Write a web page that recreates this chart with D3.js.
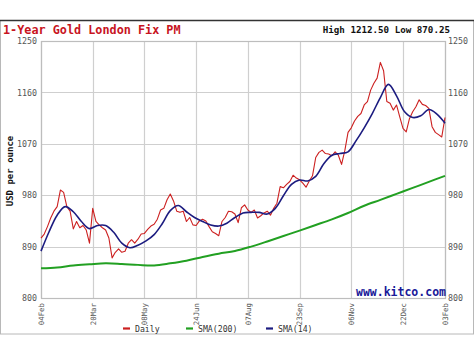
<!DOCTYPE html>
<html><head><meta charset="utf-8">
<script src="https://cdn.jsdelivr.net/npm/d3@7"></script>
<style>
html,body{margin:0;padding:0;background:#fff;}
svg{display:block;}
text{font-family:"DejaVu Sans Mono",monospace;}
</style></head>
<body><svg id="c" width="474" height="355"></svg>
<script>
// ---- data ----
const title = "1-Year Gold London Fix PM";
const highLow = "High 1212.50 Low 870.25";
const yLabel = "USD per ounce";
const yTicks = [800, 890, 980, 1070, 1160, 1250];
const xTickLabels = ["04Feb","20Mar","08May","24Jun","07Aug","23Sep","06Nov","22Dec","03Feb"];
const xTickDays = [0, 32, 64, 96, 128, 160, 192, 224, 250];
const lastDay = 250;
// Daily PM fix, sampled every 2 trading days
const dailyStep = 2;
const daily = [905,912,925,940,952,960,989,985,960,952,921,934,923,927,919,896,957,934,928,923,
  919,905,870.25,880,886,880,882,896,902,896,903,912,913,920,926,929,938,954,957,972,
  982,970,952,950,952,934,941,928,927,935,938,935,925,916,913,909,934,941,952,951,
  947,932,958,963,954,950,954,940,944,949,952,945,957,966,995,993,999,1004,1015,1010,
  1007,1001,994,1005,1014,1046,1055,1059,1053,1052,1049,1056,1050,1034,1058,1090,1098,1110,1118,1123,
  1138,1144,1164,1176,1185,1212.5,1198,1144,1141,1129,1138,1117,1097,1091,1114,1126,1135,1147,1139,1137,
  1132,1100,1090,1086,1082,1116];
// SMA(14), every 5 trading days
const sma14Step = 5;
const sma14 = [882,916,945,960,951,934,921.5,927,927,915,896,888,892.5,900,911,930,953,962,951,941,
  934,928,926,931,941,949,950,950,947,957,979,999,1006.6,1005,1013,1035,1050,1053,1056,1075.5,
  1098,1123,1151,1174,1154,1126,1116,1119,1130,1122,1106];
// SMA(200), every 10 trading days
const sma200Step = 10;
const sma200 = [852,853.5,857,859,860.7,859.6,858,857,860.7,865.4,871.8,877.6,882.3,890,899,908.5,918,927.8,937.7,948.8,
  961.6,971.8,982.3,992.8,1003.3,1013.9];
const legendItems = [
  {name:"Daily", color:"#cc2020"},
  {name:"SMA(200)", color:"#22a022"},
  {name:"SMA(14)", color:"#1c1c80"}
];

// ---- layout ----
const svg = d3.select("#c");
const L = 41, R = 445, T = 41, B = 298;
const x = d3.scaleLinear().domain([0, lastDay]).range([L, R]);
const y = d3.scaleLinear().domain([800, 1250]).range([B, T]);

// outer frame
svg.append("rect").attr("x",0.5).attr("y",20.5).attr("width",473).attr("height",313.5)
  .attr("fill","#fff").attr("stroke","#b8b8b8");
svg.append("line").attr("x1",0).attr("x2",474).attr("y1",20.5).attr("y2",20.5)
  .attr("stroke","#333").attr("stroke-width",1.5);

// grid
const g = svg.append("g");
g.selectAll(".hg").data(yTicks).join("line")
  .attr("x1",L).attr("x2",R).attr("y1",d=>Math.round(y(d))+0.5).attr("y2",d=>Math.round(y(d))+0.5)
  .attr("stroke","#cfcfcf").attr("stroke-width",1.2);
g.selectAll(".vg").data(xTickDays).join("line")
  .attr("x1",d=>Math.round(x(d))+0.5).attr("x2",d=>Math.round(x(d))+0.5).attr("y1",T).attr("y2",B)
  .attr("stroke","#cfcfcf").attr("stroke-width",1.2);
svg.append("rect").attr("x",L+0.5).attr("y",T+0.5).attr("width",R-L).attr("height",B-T)
  .attr("fill","none").attr("stroke","#bdbdbd").attr("stroke-width",1.2);

// axes via d3
const axL = svg.append("g").attr("transform",`translate(${L-4},0)`)
  .call(d3.axisLeft(y).tickValues(yTicks).tickSize(0).tickPadding(0).tickFormat(d3.format("d")));
const axR = svg.append("g").attr("transform",`translate(${R+3},0)`)
  .call(d3.axisRight(y).tickValues(yTicks).tickSize(0).tickPadding(0).tickFormat(d3.format("d")));
[axL, axR].forEach(a => {
  a.select(".domain").remove();
  a.selectAll("text").attr("font-size","8.3px").attr("fill","#555")
    .style("font-family","'DejaVu Sans Mono',monospace");
});
const axB = svg.append("g").attr("transform",`translate(0,${B})`)
  .call(d3.axisBottom(x).tickValues(xTickDays).tickSize(0).tickPadding(0)
    .tickFormat((d,i)=>xTickLabels[i]));
axB.select(".domain").remove();
axB.selectAll("text")
  .attr("font-size","7.4px").attr("fill","#555")
  .style("font-family","'DejaVu Sans Mono',monospace")
  .attr("text-anchor","end").attr("dy","0.32em").attr("x",-5).attr("y",0)
  .attr("transform","rotate(-90)");

// lines
const lineGen = step => d3.line().x((d,i)=>x(i*step)).y(d=>y(d));
svg.append("path").datum(sma200).attr("fill","none").attr("stroke","#22a022").attr("stroke-width",2)
  .attr("d", lineGen(sma200Step).curve(d3.curveCatmullRom));
svg.append("path").datum(daily).attr("fill","none").attr("stroke","#cc2020").attr("stroke-width",1.1)
  .attr("stroke-linejoin","round").attr("d", lineGen(dailyStep));
svg.append("path").datum(sma14).attr("fill","none").attr("stroke","#1c1c80").attr("stroke-width",1.6)
  .attr("d", lineGen(sma14Step).curve(d3.curveCatmullRom));

// titles
svg.append("text").attr("x",3).attr("y",34).attr("fill","#c8141e").attr("font-size","11.8px")
  .attr("font-weight","bold").text(title);
svg.append("text").attr("x",450).attr("y",33).attr("text-anchor","end").attr("fill","#111")
  .attr("font-size","9.2px").attr("font-weight","bold").text(highLow);
svg.append("text").attr("transform","translate(13,171) rotate(-90)").attr("text-anchor","middle")
  .attr("fill","#111").attr("font-size","9px").attr("font-weight","bold").text(yLabel);
svg.append("text").attr("x",446).attr("y",296).attr("text-anchor","end").attr("fill","#1a1a99")
  .attr("font-size","11.5px").attr("font-weight","bold").text("www.kitco.com");

// legend
const legX = [123, 186, 266];
const leg = svg.selectAll(".leg").data(legendItems).join("g")
  .attr("transform",(d,i)=>`translate(${legX[i]},328.5)`);
leg.append("line").attr("x1",0).attr("x2",7).attr("y1",0).attr("y2",0)
  .attr("stroke",d=>d.color).attr("stroke-width",2.2);
leg.append("text").attr("x",12).attr("y",3.5).attr("font-size","8.2px").attr("fill","#333")
  .text(d=>d.name);
</script></body></html>
